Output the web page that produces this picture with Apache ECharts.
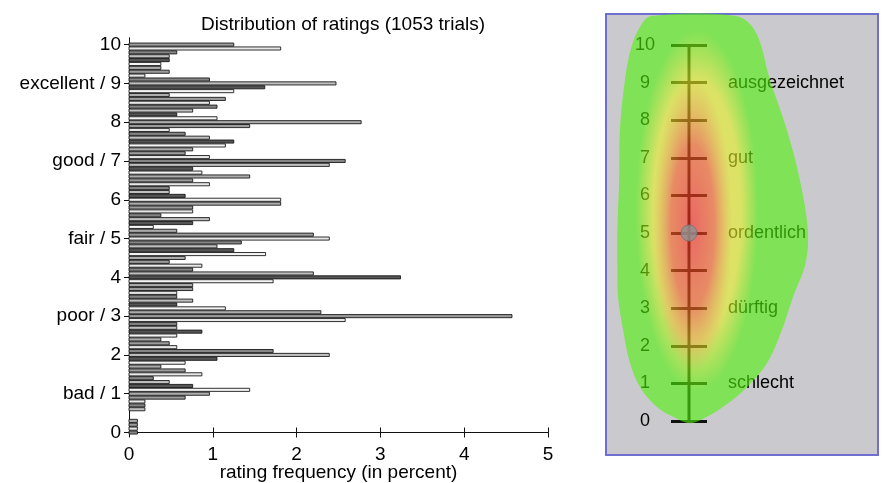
<!DOCTYPE html>
<html>
<head>
<meta charset="utf-8">
<script src="https://cdn.jsdelivr.net/npm/echarts@6/dist/echarts.min.js"></script>
<style>
html,body{margin:0;padding:0;background:#fff;}
#chart{width:886px;height:483px;}
#chart canvas[data-zr-dom-id="zr_1"]{opacity:0.6;}
</style>
</head>
<body>
<div id="chart"></div>
<script>
// ---- data ----
var ratingValues = [10.0,9.9,9.8,9.7,9.6,9.5,9.4,9.3,9.2,9.1,
  9.0,8.9,8.8,8.7,8.6,8.5,8.4,8.3,8.2,8.1,
  8.0,7.9,7.8,7.7,7.6,7.5,7.4,7.3,7.2,7.1,
  7.0,6.9,6.8,6.7,6.6,6.5,6.4,6.3,6.2,6.1,
  6.0,5.9,5.8,5.7,5.6,5.5,5.4,5.3,5.2,5.1,
  5.0,4.9,4.8,4.7,4.6,4.5,4.4,4.3,4.2,4.1,
  4.0,3.9,3.8,3.7,3.6,3.5,3.4,3.3,3.2,3.1,
  3.0,2.9,2.8,2.7,2.6,2.5,2.4,2.3,2.2,2.1,
  2.0,1.9,1.8,1.7,1.6,1.5,1.4,1.3,1.2,1.1,
  1.0,0.9,0.8,0.7,0.6,0.5,0.4,0.3,0.2,0.1,0.0];
var ratingFrequency = [1.25,1.81,0.57,0.48,0.48,0.38,0.38,0.48,0.19,0.96,
  2.47,1.62,1.25,0.48,1.15,0.96,1.05,0.76,0.57,1.05,
  2.77,1.44,0.48,0.67,0.96,1.25,1.15,0.76,0.67,0.96,
  2.58,2.39,0.76,0.87,1.44,0.76,0.96,0.48,0.48,0.67,
  1.81,1.81,0.76,0.76,0.38,0.96,0.76,0.29,0.57,2.20,
  2.39,1.34,1.05,1.25,1.63,0.67,0.48,0.87,0.76,2.20,
  3.24,1.72,0.76,0.76,0.57,0.57,0.76,0.57,1.15,2.29,
  4.57,2.58,0.57,0.57,0.87,0.57,0.38,0.48,0.57,1.72,
  2.39,1.05,0.67,0.38,0.67,0.87,0.29,0.48,0.76,1.44,
  0.96,0.67,0.19,0.19,0.19,0,0,0.10,0.10,0.10,
  0.10];
var yTickValues = [0,1,2,3,4,5,6,7,8,9,10];
var yTickLabels = ['0','bad / 1','2','poor / 3','4','fair / 5','6','good / 7','8','excellent / 9','10'];
var xTicks = [0,1,2,3,4,5];

var scaleMin = 0, scaleMax = 10;
var scaleWordValues = [1,3,5,7,9];
var scaleWordLabels = ['schlecht','dürftig','ordentlich','gut','ausgezeichnet'];
var markerRating = 5;

// heat blob outline (scale units: x across tick width, y = rating)
var blobX = [-0.55,1.80,2.35,2.75,3.22,3.58,3.80,3.74,3.39,3.08,2.67,2.11,1.44,1.00,0.53,0.06,-0.39,-0.86,-1.14,-1.33,-1.47,-1.49,-1.49,-1.44,-1.42,-1.28,-1.10,-0.85];
var blobY = [10.77,10.77,10.35,9.07,7.74,6.41,5.08,4.20,3.30,2.42,1.54,0.90,0.37,0.11,-0.06,0.11,0.37,0.90,1.54,2.42,3.30,4.20,5.08,6.41,7.74,9.07,9.95,10.50];
var heatWarm = {cx:0.72, cy:5.6, rx:1.7, ry:4.8};
var heatHot = {cx:0.6, cy:5.2, rx:1.1, ry:3.9};

// ---- styles ----
var barShades = ['#9c9c9c','#e8e8e8','#858585','#c0c0c0','#555555','#f4f4f4','#adadad'];
var FONT = 'Liberation Sans, Arial, sans-serif';

var chart = echarts.init(document.getElementById('chart'), null, {renderer:'canvas'});

function ellipseEl(api, h, stops){
  var c = api.coord([h.cx, h.cy]);
  var s = api.size([h.rx, h.ry]);
  return {
    type:'circle', shape:{cx:0, cy:0, r:s[0]}, x:c[0], y:c[1], scaleX:1, scaleY:s[1]/s[0],
    style:{fill:new echarts.graphic.RadialGradient(0.5,0.5,0.5,stops)}
  };
}

var barData = ratingValues.map(function(r, i){ return [ratingFrequency[i], r]; });

var option = {
  animation:false,
  backgroundColor:'#ffffff',
  textStyle:{fontFamily:FONT},
  title:{
    text:'Distribution of ratings (1053 trials)',
    left:338, top:10, textAlign:'center',
    textStyle:{fontFamily:FONT, fontSize:19, fontWeight:'normal', color:'#000'}
  },
  graphic:[
    {type:'rect', z:-10, shape:{x:606, y:14, width:272, height:441},
     style:{fill:'#cacace', stroke:'#6f6fd0', lineWidth:2}}
  ],
  grid:[
    {left:129, top:38, width:419, height:398, containLabel:false, outerBoundsMode:'none'},
    {left:671, top:45, width:36, height:376, containLabel:false, outerBoundsMode:'none'}
  ],
  xAxis:[
    {gridIndex:0, type:'value', min:0, max:5, interval:1, position:'bottom',
     name:'rating frequency (in percent)', nameLocation:'middle', nameGap:27, nameMoveOverlap:false,
     nameTextStyle:{fontFamily:FONT, fontSize:19, color:'#000'},
     axisLine:{show:true, lineStyle:{color:'#111', width:1}},
     axisTick:{show:true, inside:true, length:5, lineStyle:{color:'#111'}},
     axisLabel:{show:true, margin:9, fontFamily:FONT, fontSize:19, color:'#000',
       formatter:function(v){ return xTicks.indexOf(v) >= 0 ? String(v) : ''; }},
     splitLine:{show:false}},
    {gridIndex:0, type:'value', min:0, max:5, interval:1, position:'top',
     axisLine:{show:true, lineStyle:{color:'#111', width:1}},
     axisTick:{show:true, inside:true, length:5, lineStyle:{color:'#111'}},
     axisLabel:{show:false}, splitLine:{show:false}},
    {gridIndex:1, type:'value', min:0, max:1, show:false}
  ],
  yAxis:[
    {gridIndex:0, type:'value', min:-0.09, max:10.17, position:'left',
     axisLine:{show:true, lineStyle:{color:'#111', width:1}},
     axisTick:{show:true, inside:true, length:5, customValues:yTickValues, lineStyle:{color:'#111'}},
     axisLabel:{show:true, margin:8, customValues:yTickValues, fontFamily:FONT, fontSize:19, color:'#000',
       formatter:function(v){ var k = yTickValues.indexOf(Math.round(v)); return k >= 0 ? yTickLabels[k] : ''; }},
     splitLine:{show:false}},
    {gridIndex:0, type:'value', min:-0.09, max:10.17, position:'right',
     axisLine:{show:true, lineStyle:{color:'#111', width:1}},
     axisTick:{show:true, inside:true, length:5, customValues:yTickValues, lineStyle:{color:'#111'}},
     axisLabel:{show:false}, splitLine:{show:false}},
    {gridIndex:1, type:'value', min:scaleMin, max:scaleMax, interval:1, position:'left',
     axisLine:{show:false}, axisTick:{show:false},
     axisLabel:{show:true, margin:26, align:'center', fontFamily:FONT, fontSize:18, color:'#000'},
     splitLine:{show:true, lineStyle:{color:'#111', width:3, type:'solid'}}},
    {gridIndex:1, type:'value', min:scaleMin, max:scaleMax, interval:1, position:'right',
     axisLine:{show:false}, axisTick:{show:false}, splitLine:{show:false},
     axisLabel:{show:true, margin:21, align:'left', fontFamily:FONT, fontSize:18, color:'#000',
       formatter:function(v){ var k = scaleWordValues.indexOf(v); return k >= 0 ? scaleWordLabels[k] : ''; }}}
  ],
  series:[
    {type:'custom', xAxisIndex:0, yAxisIndex:0, data:barData, silent:true,
     encode:{x:0, y:1},
     renderItem:function(params, api){
       var v = api.value(0), r = api.value(1);
       var p0 = api.coord([0, r]);
       var p1 = api.coord([v, r]);
       var h = api.size([0, 0.08])[1];
       if (v <= 0) return null;
       return {type:'rect',
         shape:{x:p0[0], y:p0[1] - h/2, width:p1[0] - p0[0], height:h},
         style:{fill:barShades[params.dataIndex % barShades.length], stroke:'#1a1a1a', lineWidth:0.9}};
     }},
    {type:'line', xAxisIndex:2, yAxisIndex:2, data:[[0.5, scaleMin],[0.5, scaleMax]],
     symbol:'none', lineStyle:{color:'#111', width:3}, silent:true},
    {type:'custom', xAxisIndex:2, yAxisIndex:2, zlevel:1, clip:false, silent:true,
     data:[[0,0]],
     renderItem:function(params, api){
       var pts = blobX.map(function(x, i){ return api.coord([x, blobY[i]]); });
       return {type:'group', children:[
         {type:'polygon', shape:{points:pts, smooth:0.35}, style:{fill:'rgb(80,242,8)'}},
         ellipseEl(api, heatWarm, [
           {offset:0, color:'rgba(250,242,40,1)'},
           {offset:0.72, color:'rgba(248,242,35,0.9)'},
           {offset:1, color:'rgba(245,242,30,0)'}]),
         ellipseEl(api, heatHot, [
           {offset:0, color:'rgba(255,30,30,0.95)'},
           {offset:0.55, color:'rgba(255,50,30,0.75)'},
           {offset:1, color:'rgba(255,120,30,0)'}])
       ]};
     }},
    {type:'scatter', xAxisIndex:2, yAxisIndex:2, zlevel:2, data:[[0.5, markerRating]],
     symbol:'circle', symbolSize:16,
     itemStyle:{color:'#8f9292', borderColor:'#707474', borderWidth:1}, silent:true}
  ]
};
chart.setOption(option);
</script>
</body>
</html>
